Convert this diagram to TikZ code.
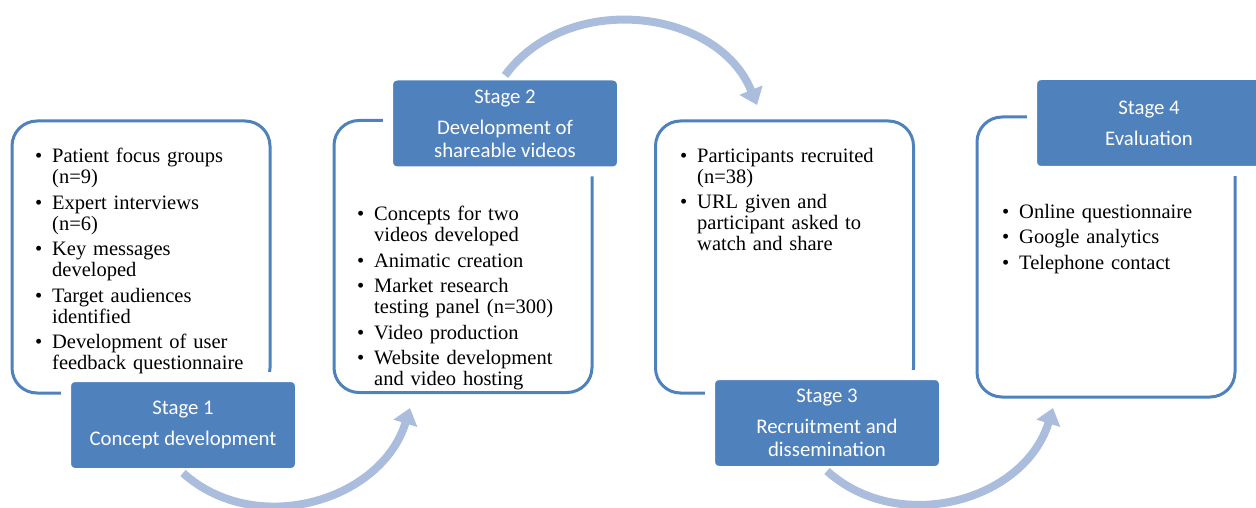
\documentclass[tikz,border=0pt]{standalone}
\usepackage{fontspec}
\setmainfont{Liberation Serif}
\newfontfamily\stagefont{Carlito}
\usepackage{xcolor}
\usetikzlibrary{positioning,arrows.meta}

\definecolor{stageblue}{RGB}{79,129,189}
\definecolor{flowblue}{RGB}{170,189,221}

% one bullet point, hanging indent for the wrapped lines
\newcommand{\litem}[1]{\noindent\hangindent=17pt\hangafter=1\hbox to 17pt{\textbullet\hss}#1\par}

\tikzset{
	panel/.style={draw=stageblue, line width=3pt, rounded corners=25pt, minimum width=258pt, minimum height=272pt},
	stage/.style={fill=stageblue, draw=white, line width=10pt, rounded corners=9pt, outer sep=0pt,
		minimum width=234pt, minimum height=96pt, text=white, align=center,
		font=\stagefont\fontsize{20.8}{23}\selectfont},
	items/.style={anchor=north west, inner sep=0pt, text width=#1, align=left,
		font=\fontsize{20.5}{21}\selectfont\setlength{\parskip}{4.5pt}},
	flow/.style={draw=flowblue, line width=8pt, -{Triangle[width=24pt,length=16pt]}, looseness=1.06}
}

\begin{document}
\begin{tikzpicture}[x=1pt,y=1pt]
	\useasboundingbox (0,0) rectangle (1256,507);

	% outlined boxes
	\node[panel] (b1) at (141,250) {};
	\node[panel] (b2) at (463,250.5) {};
	\node[panel] (b3) at (784.5,250) {};
	\node[panel, minimum height=280pt] (b4) at (1106,250) {};

	% stage labels over the box edges
	\node[stage] (s1) at (183,82) {Stage 1\\[8pt]Concept development};
	\node[stage] (s2) at (505,383.5) {Stage 2\\[8pt]Development of\\shareable videos};
	\node[stage] (s3) at (827,84) {Stage 3\\[8pt]Recruitment and\\dissemination};
	\node[stage] (s4) at (1149,384) {Stage 4\\[8pt]Evaluation};

	\node[items=225pt] (l1) at (35,359) {%
		\litem{Patient focus groups\newline (n=9)}
		\litem{Expert interviews\newline (n=6)}
		\litem{Key messages\newline developed}
		\litem{Target audiences\newline identified}
		\litem{Development of user\newline feedback questionnaire}};
	\node[items=220pt] (l2) at (357,301) {%
		\litem{Concepts for two\newline videos developed}
		\litem{Animatic creation}
		\litem{Market research\newline testing panel (n=300)}
		\litem{Video production}
		\litem{Website development\newline and video hosting}};
	\node[items=220pt] (l3) at (680,359) {%
		\litem{Participants recruited\newline (n=38)}
		\litem{URL given and\newline participant asked to\newline watch and share}};
	\node[items=215pt] (l4) at (1002,303) {%
		\litem{Online questionnaire}
		\litem{Google analytics}
		\litem{Telephone contact}};

	% arrows between the stages
	\coordinate (in2) at (410,99);
	\coordinate (in3) at (757,402);
	\coordinate (in4) at (1053,99);
	\draw[flow] (s1.south) to[out=-42,in=-107] (in2);
	\draw[flow] (s2.north) to[out=54,in=112] (in3);
	\draw[flow] (s3.south) to[out=-42,in=-107] (in4);
\end{tikzpicture}
\end{document}
